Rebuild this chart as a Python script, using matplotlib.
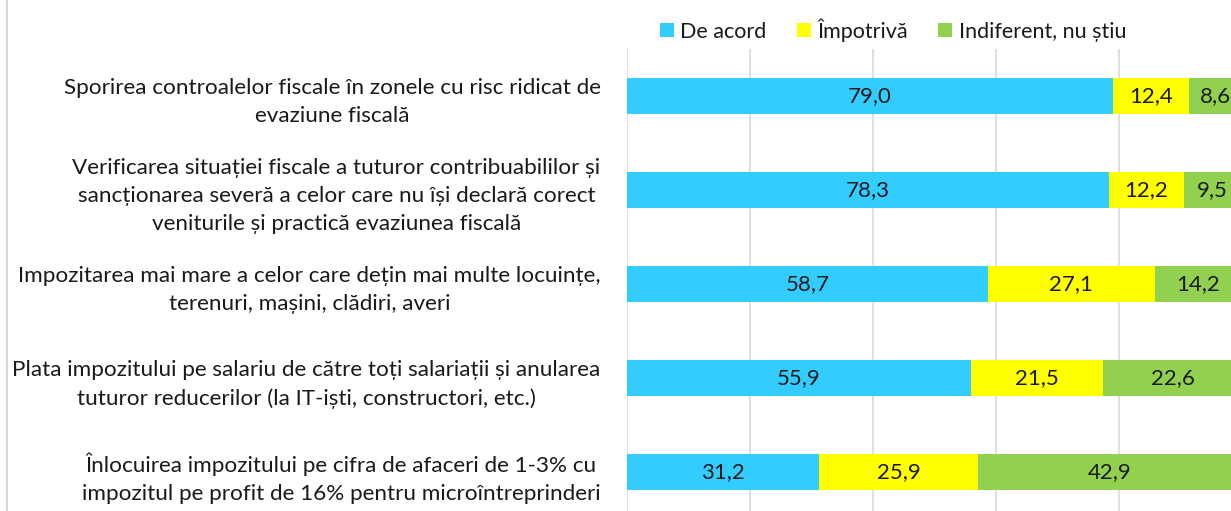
import matplotlib.pyplot as plt
from matplotlib.lines import Line2D
from matplotlib.patches import Patch
import numpy as np

plt.rcParams['font.family'] = ['Lato', 'DejaVu Sans']

labels = [
    "Sporirea controalelor fiscale în zonele cu risc ridicat de\nevaziune fiscală",
    "Verificarea situației fiscale a tuturor contribuabililor și\nsancționarea severă a celor care nu își declară corect\nveniturile și practică evaziunea fiscală",
    "Impozitarea mai mare a celor care dețin mai multe locuințe,\nterenuri, mașini, clădiri, averi",
    "Plata impozitului pe salariu de către toți salariații și anularea\ntuturor reducerilor (la IT-iști, constructori, etc.)",
    "Înlocuirea impozitului pe cifra de afaceri de 1-3% cu\nimpozitul pe profit de 16% pentru microîntreprinderi",
]
series_names = ["De acord", "Împotrivă", "Indiferent, nu știu"]
de_acord = [79.0, 78.3, 58.7, 55.9, 31.2]
impotriva = [12.4, 12.2, 27.1, 21.5, 25.9]
indiferent = [8.6, 9.5, 14.2, 22.6, 42.9]
colors = ["#33CCFF", "#FFFF00", "#92D050"]

W, H = 1231, 511
fig = plt.figure(figsize=(W / 100, H / 100), dpi=100)
# axes extends past the right and bottom edge like in the cropped original
left, right, top, bottom = 627, 1242, 49, 519
ax = fig.add_axes([left / W, 1 - bottom / H, (right - left) / W, (bottom - top) / H])

y = np.arange(len(labels))
start = np.zeros(len(labels))
for vals, col in zip([de_acord, impotriva, indiferent], colors):
    bars = ax.barh(y, vals, left=start, height=0.39, color=col, zorder=3)
    for b, v in zip(bars, vals):
        ax.text(b.get_x() + b.get_width() / 2, b.get_y() + b.get_height() / 2,
                f"{v:.1f}".replace(".", ","), ha="center", va="center",
                fontsize=16, color="#1a1a1a", zorder=4)
    start += np.array(vals)

ax.set_xlim(0, 100)
ax.set_ylim(4.5, -0.5)
ax.set_xticks([0, 20, 40, 60, 80, 100])
ax.xaxis.grid(True, color="#d9d9d9", linewidth=1.2, zorder=0)
ax.tick_params(axis="x", length=0, labelbottom=False)
ax.set_yticks(y)
ax.set_yticklabels(labels, fontsize=16.2, color="#1a1a1a", linespacing=1.5)
for t in ax.get_yticklabels():
    t.set_multialignment("center")
ax.tick_params(axis="y", length=0, pad=19)
for s in ax.spines.values():
    s.set_visible(False)

handles = [Patch(facecolor=c, label=n) for c, n in zip(colors, series_names)]
fig.legend(handles=handles, loc="center", bbox_to_anchor=(893 / W, 1 - 30 / H),
           ncol=3, frameon=False, fontsize=15.5, handlelength=0.65, handleheight=0.65,
           handletextpad=0.3, columnspacing=1.4, labelcolor="#1a1a1a")

# left border of the original chart frame
fig.add_artist(Line2D([7 / W, 7 / W], [0, 1], color="#d9d9d9", linewidth=1.5))

fig.savefig("out.png", dpi=100)
